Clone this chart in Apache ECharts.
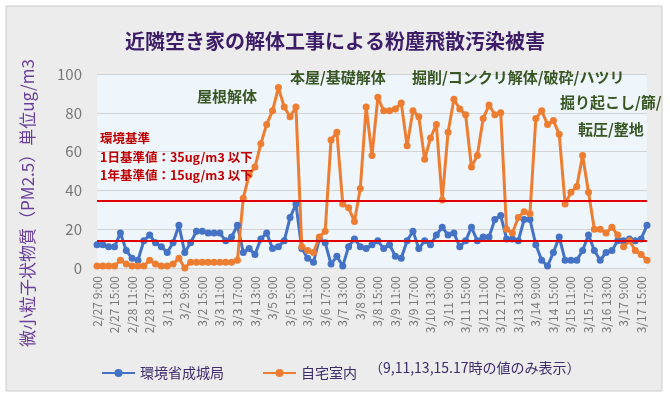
<!DOCTYPE html>
<html><head><meta charset="utf-8">
<script src="https://cdn.jsdelivr.net/npm/echarts@6/dist/echarts.min.js"></script>
<style>html,body{margin:0;padding:0;background:#fff}#c{width:670px;height:395px}</style>
</head><body><div id="c"></div>
<script>
const days = ['2/27','2/28','3/1','3/2','3/3','3/4','3/5','3/6','3/7','3/8','3/9','3/10','3/11','3/12','3/13','3/14','3/15','3/16','3/17'];
const hours = ['9:00','11:00','13:00','15:00','17:00'];
const categories = [];
days.forEach(d => hours.forEach(h => categories.push(d + ' ' + h)));

const seriesNames = ['環境省成城局', '自宅室内'];
const stationValues = [
  12,12,11,11,18, 9,5,4,14,17, 13,11,8,13,22, 8,13,19,19,18, 18,18,14,16,22,
  8,10,7,15,18, 10,11,14,26,33, 10,5,3,15,13, 2,6,1,11,15, 11,10,
  12,14,10, 12,6,5,14,19, 10,14,12,17,21, 17,18,11,14,21, 14,16,16,25,27,
  15,15,14,25,25, 12,4,1,8,16, 4,4,4,9,17, 9,4,8,9,14, 14,15,14,15,22
];
const homeValues = [
  1,1,1,1,4, 2,1,1,1,4, 2,1,1,2,5, 0,3,3,3,3, 3,3,3,3,4,
  36,48,52,64,74, 81,93,83,78,83, 11,9,8,16,19, 66,70,33,31,24, 41,83,
  58,88,81, 81,82,85,63,81, 78,56,67,74,35, 70,87,82,79,52, 58,77,84,79,80,
  20,18,26,29,28, 77,81,74,76,69, 33,39,42,58,39, 20,20,18,21,17, 11,14,9,7,4
];
const standardLines = [34.5, 14.2];
const yTicks = {min: 0, max: 100, interval: 20};

const titleText = '近隣空き家の解体工事による粉塵飛散汚染被害';
const yName = '微小粒子状物質（PM2.5）単位ug/m3';
const noteText = '（9,11,13,15.17時の値のみ表示）';
const redNotes = ['環境基準', '1日基準値：35ug/m3 以下', '1年基準値：15ug/m3 以下'];
const phaseNotes = ['屋根解体', '本屋/基礎解体', '掘削/コンクリ解体/破砕/ハツリ', '掘り起こし/篩/', '転圧/整地'];

const FONT = '"Noto Sans CJK JP", "Noto Sans", sans-serif';
const green = '#375623';
const red = '#c00000';

const chart = echarts.init(document.getElementById('c'), null, {renderer: 'canvas'});

function txt(x, y, text, color, size, weight, extra) {
  return Object.assign({
    type: 'text', x: x, y: y, z: 50,
    style: {text: text, fill: color, font: (weight || 'normal') + ' ' + size + 'px ' + FONT, textVerticalAlign: 'middle'}
  }, extra || {});
}

chart.setOption({
  backgroundColor: '#ffffff',
  animation: false,
  title: {
    text: titleText, left: 'center', top: 26,
    textStyle: {fontSize: 20, fontWeight: 'bold', color: '#3e1d68', fontFamily: FONT}
  },
  grid: {left: 97, right: 23, top: 74, bottom: 127, show: true, backgroundColor: '#eef5fb', borderWidth: 0},
  legend: {
    left: 96, top: 361, itemWidth: 33, itemHeight: 10, itemGap: 38,
    textStyle: {fontSize: 14, color: '#3d2b6b', fontFamily: FONT},
    data: seriesNames
  },
  xAxis: {
    type: 'category', data: categories, boundaryGap: false,
    axisLine: {show: false}, axisTick: {show: false},
    axisLabel: {interval: 2, rotate: 90, fontSize: 12, color: '#777777', margin: 8, fontFamily: FONT}
  },
  yAxis: {
    type: 'value', min: yTicks.min, max: yTicks.max, interval: yTicks.interval,
    axisLine: {show: false}, axisTick: {show: false},
    axisLabel: {fontSize: 15, color: '#777777', margin: 15, fontFamily: FONT},
    splitLine: {lineStyle: {color: '#d3d3d3', width: 1.2}}
  },
  series: [
    {
      name: seriesNames[0], type: 'line', data: stationValues,
      symbol: 'circle', symbolSize: 7, showSymbol: true, showAllSymbol: true,
      lineStyle: {color: '#4472c4', width: 3}, itemStyle: {color: '#4472c4'}
    },
    {
      name: seriesNames[1], type: 'line', data: homeValues,
      symbol: 'circle', symbolSize: 7, showSymbol: true, showAllSymbol: true,
      lineStyle: {color: '#ed7d31', width: 3}, itemStyle: {color: '#ed7d31'},
      markLine: {
        silent: true, symbol: 'none', label: {show: false},
        lineStyle: {color: '#e00000', width: 2, type: 'solid'},
        data: standardLines.map(v => ({yAxis: v}))
      }
    }
  ],
  graphic: {elements: [
    {type: 'rect', z: -10, shape: {x: 6, y: 6, width: 656, height: 385},
     style: {fill: '#ececec', stroke: '#cccccc', lineWidth: 1}},
    txt(28, 203, yName, '#6a3d9a', 17, 'normal', {rotation: Math.PI / 2, style: {text: yName, fill: '#6a3d9a', font: 'normal 17px ' + FONT, textAlign: 'center', textVerticalAlign: 'middle'}}),
    txt(100, 138, redNotes[0], red, 12.5, 'bold'),
    txt(100, 157, redNotes[1], red, 12.5, 'bold'),
    txt(100, 175, redNotes[2], red, 12.5, 'bold'),
    txt(197, 96, phaseNotes[0], green, 15, 'bold'),
    txt(290, 77, phaseNotes[1], green, 15, 'bold'),
    txt(412, 77, phaseNotes[2], green, 15, 'bold'),
    txt(560, 102, phaseNotes[3], green, 15, 'bold'),
    txt(578, 129, phaseNotes[4], green, 15, 'bold'),
    txt(369, 368, noteText, '#3d2b6b', 14, 'normal')
  ]}
});
</script></body></html>
